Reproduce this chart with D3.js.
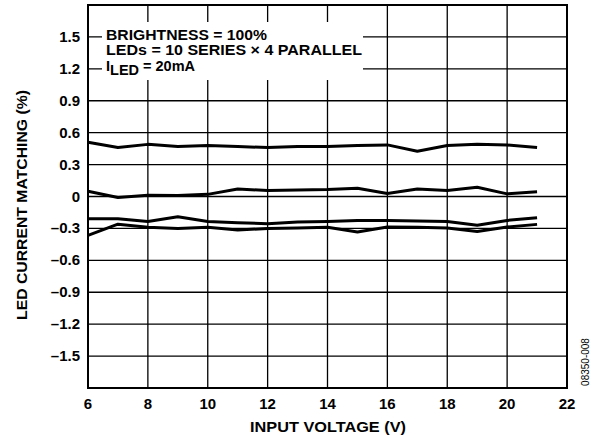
<!DOCTYPE html>
<html>
<head>
<meta charset="utf-8">
<script src="https://cdn.jsdelivr.net/npm/d3@7.9.0/dist/d3.min.js"></script>
<style>
  body { margin: 0; background: #fff; }
  svg { display: block; font-family: 'Liberation Sans', Arial, sans-serif; font-weight: bold; }
</style>
</head>
<body>
<div id="chart"></div>
<script>
const voltage = [6, 7, 8, 9, 10, 11, 12, 13, 14, 15, 16, 17, 18, 19, 20, 21];
const seriesA = [0.51, 0.46, 0.49, 0.47, 0.48, 0.47, 0.46, 0.47, 0.47, 0.48, 0.485, 0.425, 0.48, 0.49, 0.485, 0.46];
const seriesB = [0.05, -0.01, 0.012, 0.01, 0.02, 0.07, 0.056, 0.06, 0.065, 0.078, 0.028, 0.07, 0.056, 0.087, 0.025, 0.044];
const seriesC = [-0.21, -0.21, -0.234, -0.19, -0.234, -0.247, -0.256, -0.24, -0.234, -0.225, -0.225, -0.23, -0.234, -0.27, -0.225, -0.2];
const seriesD = [-0.365, -0.26, -0.29, -0.3, -0.29, -0.315, -0.3, -0.297, -0.29, -0.334, -0.287, -0.29, -0.297, -0.328, -0.287, -0.262];
const xTicks = [6, 8, 10, 12, 14, 16, 18, 20, 22];
const yTicks = [-1.5, -1.2, -0.9, -0.6, -0.3, 0, 0.3, 0.6, 0.9, 1.2, 1.5];
const legendLines = ['BRIGHTNESS = 100%', 'LEDs = 10 SERIES \u00d7 4 PARALLEL'];

const width = 597, height = 441;
const margin = { top: 5, right: 30, bottom: 53, left: 88 };

const svg = d3.select('#chart').append('svg')
  .attr('width', width).attr('height', height);

const x = d3.scaleLinear().domain([6, 22]).range([margin.left, width - margin.right]);
const y = d3.scaleLinear().domain([-1.8, 1.8]).range([height - margin.bottom, margin.top]);

// grid
const grid = svg.append('g').attr('stroke', '#000').attr('stroke-width', 1.3);
grid.selectAll('line.v').data(xTicks.slice(1, -1)).join('line')
  .attr('x1', d => x(d)).attr('x2', d => x(d))
  .attr('y1', y(1.8)).attr('y2', y(-1.8));
grid.selectAll('line.h').data(yTicks).join('line')
  .attr('x1', x(6)).attr('x2', x(22))
  .attr('y1', d => y(d)).attr('y2', d => y(d));

// legend box (white, covers grid)
svg.append('rect')
  .attr('x', 102).attr('y', 22).attr('width', 261).attr('height', 58)
  .attr('fill', '#fff');

const legendWidths = [161, 256];
const legend = svg.append('text').attr('font-size', 14.5).attr('fill', '#000');
legendLines.forEach((t, i) => {
  legend.append('tspan').attr('x', 106).attr('y', 39.5 + i * 15.7)
    .attr('textLength', legendWidths[i]).attr('lengthAdjust', 'spacingAndGlyphs')
    .text(t);
});
const l3 = svg.append('text').attr('font-size', 14.5).attr('x', 106).attr('y', 70.8);
l3.append('tspan').text('I');
l3.append('tspan').attr('dy', 4).text('LED');
l3.append('tspan').attr('dy', -4).text(' = 20mA');

// border
svg.append('rect')
  .attr('x', x(6)).attr('y', y(1.8))
  .attr('width', x(22) - x(6)).attr('height', y(-1.8) - y(1.8))
  .attr('fill', 'none').attr('stroke', '#000').attr('stroke-width', 2);

// data lines
const line = d3.line().x((d, i) => x(voltage[i])).y(d => y(d));
svg.append('g').selectAll('path')
  .data([seriesA, seriesB, seriesC, seriesD]).join('path')
  .attr('d', line)
  .attr('fill', 'none').attr('stroke', '#000').attr('stroke-width', 3)
  .attr('stroke-linejoin', 'round');

// tick labels
const fmt = d => d === 0 ? '0' : (d < 0 ? '\u2013' : '') + Math.abs(d).toFixed(1);
svg.append('g').selectAll('text').data(yTicks).join('text')
  .attr('x', 80).attr('y', d => y(d) + 5)
  .attr('text-anchor', 'end').attr('font-size', 15)
  .text(fmt);
svg.append('g').selectAll('text').data(xTicks).join('text')
  .attr('x', d => x(d)).attr('y', 409)
  .attr('text-anchor', 'middle').attr('font-size', 15)
  .text(d => d);

// axis titles
svg.append('text')
  .attr('x', 250).attr('y', 432.3)
  .attr('font-size', 15.5)
  .attr('textLength', 156).attr('lengthAdjust', 'spacingAndGlyphs')
  .text('INPUT VOLTAGE (V)');
svg.append('text')
  .attr('transform', `translate(26.5, 320) rotate(-90)`)
  .attr('font-size', 15)
  .attr('textLength', 230).attr('lengthAdjust', 'spacingAndGlyphs')
  .text('LED CURRENT MATCHING (%)');

svg.append('text')
  .attr('transform', `translate(588.5, 362) rotate(-90)`)
  .attr('text-anchor', 'middle').attr('font-size', 10)
  .attr('font-weight', 'normal')
  .text('08350-008');
</script>
</body>
</html>
